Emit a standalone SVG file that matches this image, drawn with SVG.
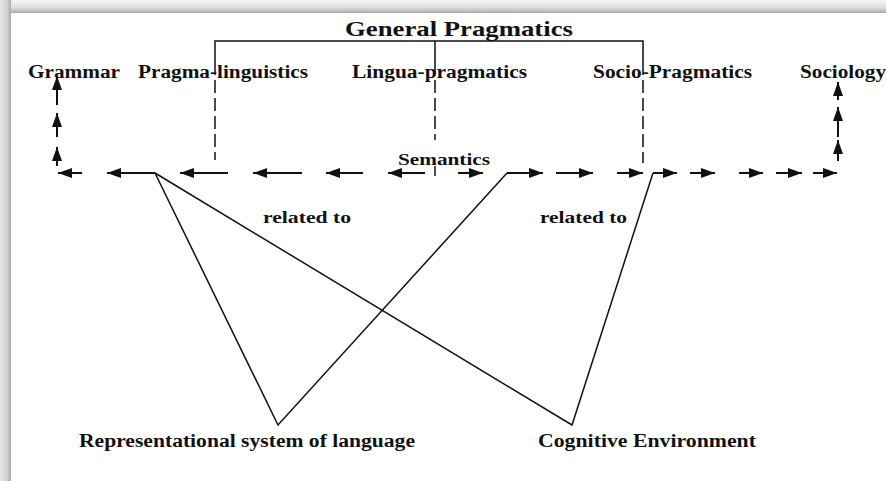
<svg xmlns="http://www.w3.org/2000/svg" width="886" height="481" viewBox="0 0 886 481">
<defs>
<linearGradient id="gTop" x1="0" y1="0" x2="0" y2="1">
<stop offset="0" stop-color="#f4f4f4"/>
<stop offset="0.6" stop-color="#dedede"/>
<stop offset="1" stop-color="#a9a9a9"/>
</linearGradient>
<linearGradient id="gLeft" x1="0" y1="0" x2="1" y2="0">
<stop offset="0" stop-color="#e6e6e6"/>
<stop offset="0.65" stop-color="#d2d2d2"/>
<stop offset="1" stop-color="#a9a9a9"/>
</linearGradient>
<marker id="ah" markerUnits="userSpaceOnUse" markerWidth="14" markerHeight="10" refX="14" refY="5" orient="auto">
<path d="M0,0 L14,5 L0,10 z" fill="#111"/>
</marker>
</defs>
<style>
.t{font-family:"Liberation Serif","Times New Roman",serif;font-weight:bold;fill:#111;}
.top{font-size:18.5px;}
.mid{font-size:17.5px;}
.bot{font-size:18px;}
.ar{stroke:#111;stroke-width:2;fill:none;marker-end:url(#ah);}
.ln{stroke:#111;stroke-width:1.5;fill:none;}
.ds{stroke:#111;stroke-width:1.5;fill:none;stroke-dasharray:13 5;}
</style>
<rect x="0" y="0" width="886" height="481" fill="#fff"/>
<rect x="0" y="0" width="886" height="13" fill="url(#gTop)"/>
<rect x="0" y="0" width="11" height="481" fill="url(#gLeft)"/>

<g id="connectors">
<path class="ln" d="M215,62 V41 H643 V62 M435,41 V62"/>
<line class="ds" x1="215" y1="62" x2="215" y2="160"/>
<line class="ds" x1="435" y1="62" x2="435" y2="140"/>
<line class="ln" x1="435" y1="166" x2="435" y2="176"/>
<line class="ds" x1="643" y1="62" x2="643" y2="163"/>
<line class="ar" x1="57" y1="105" x2="57" y2="76"/>
<line class="ar" x1="57" y1="137" x2="57" y2="113"/>
<line class="ar" x1="57" y1="166" x2="57" y2="147"/>
<line class="ar" x1="838" y1="100" x2="838" y2="82"/>
<line class="ar" x1="838" y1="137" x2="838" y2="107"/>
<line class="ar" x1="838" y1="161" x2="838" y2="140"/>
<line class="ar" x1="82" y1="173" x2="58" y2="173"/>
<line class="ar" x1="155" y1="173" x2="107" y2="173"/>
<line class="ar" x1="228" y1="173" x2="180" y2="173"/>
<line class="ar" x1="302" y1="173" x2="253" y2="173"/>
<line class="ar" x1="363" y1="173" x2="326" y2="173"/>
<line class="ar" x1="425" y1="173" x2="388" y2="173"/>
<line class="ar" x1="458" y1="173" x2="483" y2="173"/>
<line class="ar" x1="507" y1="173" x2="543" y2="173"/>
<line class="ar" x1="556" y1="173" x2="593" y2="173"/>
<line class="ar" x1="617" y1="173" x2="643" y2="173"/>
<line class="ar" x1="653" y1="173" x2="677" y2="173"/>
<line class="ar" x1="690" y1="173" x2="715" y2="173"/>
<line class="ar" x1="739" y1="173" x2="763" y2="173"/>
<line class="ar" x1="776" y1="173" x2="802" y2="173"/>
<line class="ar" x1="813" y1="173" x2="837" y2="173"/>
<path class="ln" d="M155,173 L278,425 L507,173"/>
<path class="ln" d="M155,173 L572,425 L653,173"/>
</g>

<g id="general-pragmatics"><text class="t" x="345" y="36" font-size="22" textLength="228" lengthAdjust="spacingAndGlyphs">General Pragmatics</text></g>
<g id="grammar"><text class="t top" x="28" y="78" textLength="92" lengthAdjust="spacingAndGlyphs">Grammar</text></g>
<g id="pragma-linguistics"><text class="t top" x="138" y="78" textLength="170" lengthAdjust="spacingAndGlyphs">Pragma-linguistics</text></g>
<g id="lingua-pragmatics"><text class="t top" x="352" y="78" textLength="175" lengthAdjust="spacingAndGlyphs">Lingua-pragmatics</text></g>
<g id="socio-pragmatics"><text class="t top" x="593" y="78" textLength="159" lengthAdjust="spacingAndGlyphs">Socio-Pragmatics</text></g>
<g id="sociology"><text class="t top" x="800" y="78" textLength="86" lengthAdjust="spacingAndGlyphs">Sociology</text></g>
<g id="semantics"><text class="t mid" x="398" y="165" textLength="92" lengthAdjust="spacingAndGlyphs">Semantics</text></g>
<g id="related-to-1"><text class="t mid" x="263" y="223" textLength="88" lengthAdjust="spacingAndGlyphs">related to</text></g>
<g id="related-to-2"><text class="t mid" x="540" y="223" textLength="87" lengthAdjust="spacingAndGlyphs">related to</text></g>
<g id="representational"><text class="t bot" x="79" y="447" textLength="336" lengthAdjust="spacingAndGlyphs">Representational system of language</text></g>
<g id="cognitive"><text class="t bot" x="538" y="447" textLength="218" lengthAdjust="spacingAndGlyphs">Cognitive Environment</text></g>
</svg>
